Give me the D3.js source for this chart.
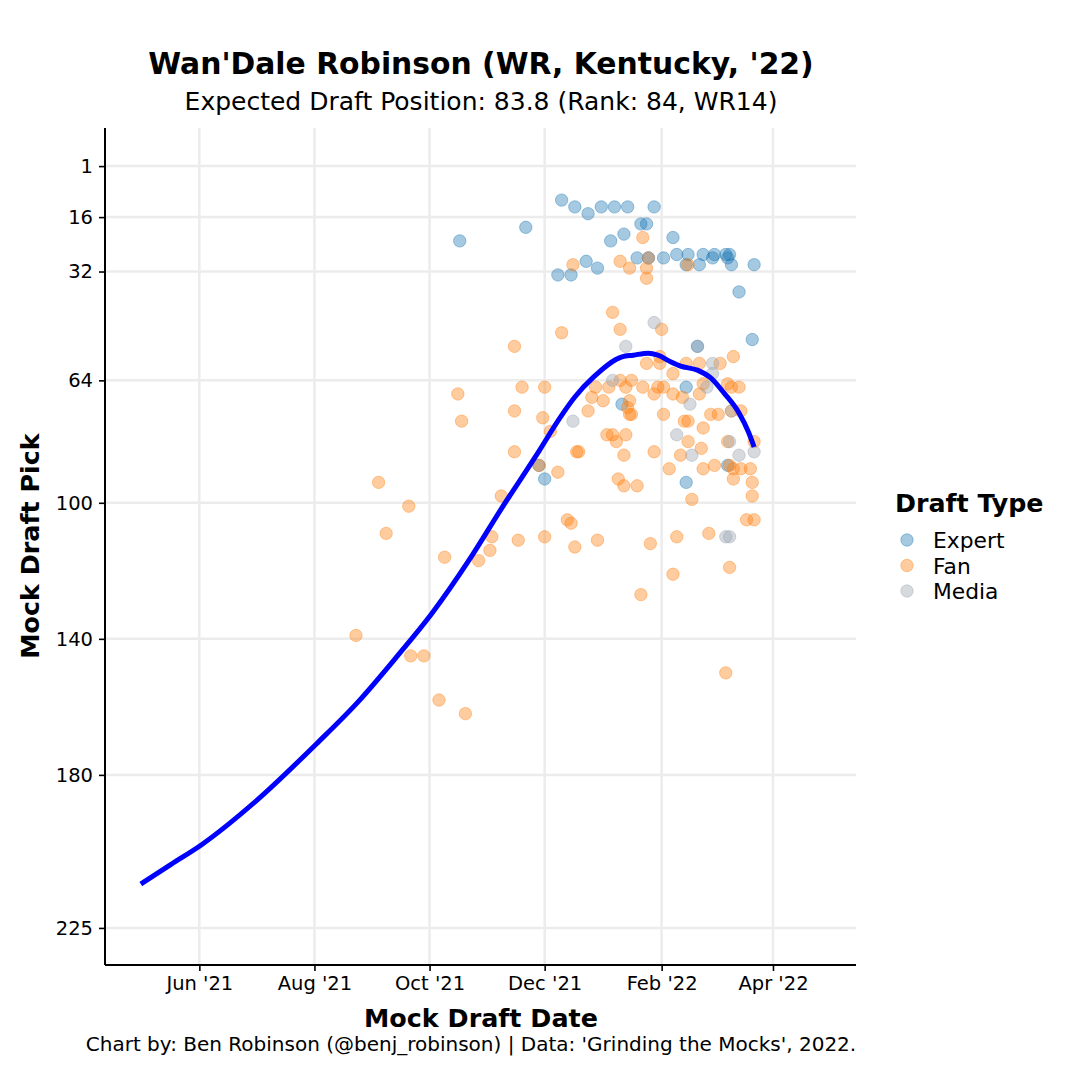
<!DOCTYPE html>
<html><head><meta charset="utf-8">
<script src="https://cdn.jsdelivr.net/npm/d3@7"></script>
<style>
html,body{margin:0;padding:0;background:#fff;}
svg{display:block;font-family:"DejaVu Sans",sans-serif;}
</style></head>
<body><svg id="chart" width="1080" height="1080"></svg>
<script>
const titleText = "Wan'Dale Robinson (WR, Kentucky, '22)";
const subtitleText = "Expected Draft Position: 83.8 (Rank: 84, WR14)";
const captionText = "Chart by: Ben Robinson (@benj_robinson) | Data: 'Grinding the Mocks', 2022.";
const xLabel = "Mock Draft Date";
const yLabel = "Mock Draft Pick";
const legendTitle = "Draft Type";
const categories = ["Expert", "Fan", "Media"];
const yTicks = [1, 16, 32, 64, 100, 140, 180, 225];
const xTicks = ["2021-06-01","2021-08-01","2021-10-01","2021-12-01","2022-02-01","2022-04-01"];
const xDomain = ["2021-04-12","2022-05-15"];
const yDomain = [-10.2, 235.9];

const expertPoints = [
["2021-10-17",23],["2021-11-21",19],["2021-12-10",11],["2021-12-17",13],["2021-12-24",15],
["2021-12-31",13],["2022-01-07",13],["2022-01-14",13],["2022-01-28",13],["2022-01-21",18],
["2022-01-24",18],["2022-01-12",21],["2022-01-05",23],["2022-02-07",22],["2021-12-23",29],
["2021-12-29",31],["2021-12-08",33],["2021-12-15",33],["2022-01-19",28],["2022-01-25",28],
["2022-02-02",28],["2022-02-09",27],["2022-02-15",27],["2022-02-21",30],["2022-02-23",27],
["2022-02-28",28],["2022-03-01",27],["2022-03-07",27],["2022-03-08",28],["2022-03-09",27],
["2022-03-10",30],["2022-03-22",30],["2022-03-14",38],["2022-02-14",30],["2022-03-21",52],
["2022-02-20",54],["2022-02-14",66],["2022-01-11",71],["2021-12-01",93],["2022-02-14",94],
["2022-03-08",89],["2021-11-28",89]
];

const fanPoints = [
["2021-11-15",54],["2021-12-10",50],["2021-12-16",30],["2022-01-10",29],["2022-01-15",31],
["2022-01-22",22],["2022-01-24",31],["2022-01-24",34],["2022-01-25",28],["2022-02-15",30],
["2022-01-06",44],["2022-01-10",49],["2022-02-01",49],["2022-01-24",59],["2022-01-31",59],
["2022-01-31",57],["2022-02-14",59],["2022-02-21",59],["2022-03-04",59],["2022-03-11",57],
["2022-02-07",62],["2021-12-01",66],["2022-01-10",64],["2022-01-16",64],["2022-01-04",66],
["2022-01-13",66],["2022-01-22",66],["2022-01-30",66],["2022-02-02",66],["2022-01-28",68],
["2022-02-07",68],["2022-02-12",69],["2022-02-21",68],["2022-02-23",65],["2022-03-08",65],
["2022-03-10",66],["2022-03-14",66],["2021-12-28",66],["2021-12-26",69],["2022-01-01",70],
["2022-01-15",70],["2022-01-14",72],["2022-01-16",74],["2022-01-15",74],["2021-12-24",73],
["2022-02-02",74],["2022-02-27",74],["2022-03-03",74],["2022-03-10",73],["2022-03-15",73],
["2021-11-30",75],["2021-12-04",79],["2022-01-03",80],["2022-01-06",80],["2022-01-13",80],
["2022-01-08",82],["2022-02-13",76],["2022-02-15",76],["2022-02-15",82],["2022-02-23",78],
["2022-02-22",84],["2022-03-08",82],["2022-03-22",82],["2021-12-18",85],["2021-12-19",85],
["2022-01-28",85],["2022-02-11",86],["2022-01-12",86],["2021-12-08",91],["2022-02-05",90],
["2022-02-23",90],["2022-03-01",89],["2022-03-09",89],["2022-03-11",90],["2022-03-15",90],
["2022-03-20",90],["2022-03-11",93],["2022-01-09",93],["2022-01-12",95],["2022-01-19",95],
["2022-02-17",99],["2022-03-21",94],["2022-03-21",98],["2021-12-13",105],["2021-12-15",106],
["2022-03-18",105],["2022-03-22",105],["2021-12-01",110],["2021-12-17",113],["2021-12-29",111],
["2022-01-26",112],["2022-02-09",110],["2022-02-26",109],["2022-02-07",121],["2022-03-09",119],
["2022-01-21",127],["2022-03-07",150],["2021-10-16",68],["2021-10-18",76],["2021-11-15",73],
["2021-11-19",66],["2021-11-15",85],["2021-11-28",89],["2021-09-04",94],["2021-09-20",101],
["2021-09-08",109],["2021-11-08",98],["2021-11-03",110],["2021-11-02",114],["2021-11-17",111],
["2021-10-09",116],["2021-10-27",117],["2021-08-23",139],["2021-09-21",145],["2021-09-28",145],
["2021-10-06",158],["2021-10-20",162]
];

const mediaPoints = [
["2022-01-28",47],["2022-01-13",54],["2022-02-28",59],["2022-02-28",62],["2022-01-06",64],
["2022-02-25",66],["2022-02-16",71],["2021-12-16",76],["2022-02-09",80],["2022-03-09",82],
["2022-02-17",86],["2022-03-14",86],["2022-03-22",85],["2022-03-07",110],["2022-03-09",110],
["2022-02-20",54],["2022-01-25",28],["2022-03-10",73]
];

const trendPoints = [
["2021-05-01",212.1],["2021-05-17",206.3],["2021-06-02",200.6],["2021-07-01",187.7],
["2021-08-02",170.9],["2021-08-24",158.6],["2021-09-14",145.0],["2021-10-02",132.7],
["2021-10-22",116.8],["2021-11-08",101.8],["2021-11-28",84.8],["2021-12-09",75.1],
["2021-12-17",68.9],["2021-12-27",63.0],["2022-01-11",57.1],["2022-01-17",56.6],
["2022-01-25",56.0],["2022-01-30",56.6],["2022-02-06",58.6],["2022-02-11",59.8],
["2022-02-20",61.0],["2022-02-27",63.3],["2022-03-06",67.7],["2022-03-14",73.6],
["2022-03-19",79.2],["2022-03-22",83.6]
];

const colors = {Expert: "#1f77b4", Fan: "#ff7f0e", Media: "#98a2ae"};

const parse = d3.utcParse("%Y-%m-%d");
const svg = d3.select("#chart");
const m = {left: 105, right: 856, top: 128, bottom: 965};

const x = d3.scaleUtc().domain(xDomain.map(parse)).range([m.left, m.right]);
const y = d3.scaleLinear().domain(yDomain).range([m.top, m.bottom]);

// grid
const grid = svg.append("g");
grid.selectAll(".vg").data(xTicks.map(parse)).join("line")
  .attr("x1", d => x(d)).attr("x2", d => x(d))
  .attr("y1", m.top).attr("y2", m.bottom)
  .attr("stroke", "#ececec").attr("stroke-width", 2.5);
grid.selectAll(".hg").data(yTicks).join("line")
  .attr("x1", m.left).attr("x2", m.right)
  .attr("y1", d => y(d)).attr("y2", d => y(d))
  .attr("stroke", "#ececec").attr("stroke-width", 2.5);

// points
const groups = [["Expert", expertPoints], ["Fan", fanPoints], ["Media", mediaPoints]];
groups.forEach(([cat, pts]) => {
  svg.append("g").selectAll("circle").data(pts).join("circle")
    .attr("cx", d => x(parse(d[0])))
    .attr("cy", d => y(d[1]))
    .attr("r", 6.2)
    .attr("fill", colors[cat]).attr("fill-opacity", 0.4)
    .attr("stroke", colors[cat]).attr("stroke-opacity", 0.4).attr("stroke-width", 1);
});

// trend line
const line = d3.line().x(d => x(parse(d[0]))).y(d => y(d[1])).curve(d3.curveMonotoneX);
svg.append("path").datum(trendPoints).attr("d", line)
  .attr("fill", "none").attr("stroke", "#0000ff").attr("stroke-width", 5)
  .attr("stroke-linejoin", "round");

// axes
const xAxis = d3.axisBottom(x).tickValues(xTicks.map(parse))
  .tickFormat(d3.utcFormat("%b '%y")).tickSizeOuter(0).tickSize(6).tickPadding(5);
const gx = svg.append("g").attr("transform", `translate(0,${m.bottom})`).call(xAxis);
gx.select(".domain").attr("d", `M${m.left},0H${m.right}`).attr("stroke", "#000").attr("stroke-width", 2);
gx.selectAll(".tick line").attr("stroke", "#000").attr("stroke-width", 1.6);
gx.selectAll(".tick text").attr("font-size", 19.5).attr("fill", "#000").attr("font-family", "DejaVu Sans");

const yAxis = d3.axisLeft(y).tickValues(yTicks).tickSizeOuter(0).tickSize(6).tickPadding(6);
const gy = svg.append("g").attr("transform", `translate(${m.left},0)`).call(yAxis);
gy.select(".domain").attr("d", `M0,${m.top}V${m.bottom}`).attr("stroke", "#000").attr("stroke-width", 2);
gy.selectAll(".tick line").attr("stroke", "#000").attr("stroke-width", 1.6);
gy.selectAll(".tick text").attr("font-size", 19.5).attr("fill", "#000").attr("font-family", "DejaVu Sans");

// titles
svg.append("text").attr("x", 481).attr("y", 74).attr("text-anchor", "middle")
  .attr("font-size", 29.8).attr("font-weight", "bold").text(titleText);
svg.append("text").attr("x", 481).attr("y", 110).attr("text-anchor", "middle")
  .attr("font-size", 25).text(subtitleText);
svg.append("text").attr("x", 481).attr("y", 1027).attr("text-anchor", "middle")
  .attr("font-size", 25.4).attr("font-weight", "bold").text(xLabel);
svg.append("text").attr("transform", `translate(39,546) rotate(-90)`).attr("text-anchor", "middle")
  .attr("font-size", 25.4).attr("font-weight", "bold").text(yLabel);
svg.append("text").attr("x", 471).attr("y", 1051).attr("text-anchor", "middle")
  .attr("font-size", 20).text(captionText);

// legend
const lg = svg.append("g");
lg.append("text").attr("x", 895).attr("y", 512).attr("font-size", 25.3).attr("font-weight", "bold").text(legendTitle);
categories.forEach((c, i) => {
  const cy = 540 + i * 25.5;
  lg.append("circle").attr("cx", 907).attr("cy", cy).attr("r", 6.2)
    .attr("fill", colors[c]).attr("fill-opacity", 0.4)
    .attr("stroke", colors[c]).attr("stroke-opacity", 0.4).attr("stroke-width", 1);
  lg.append("text").attr("x", 933).attr("y", cy + 8).attr("font-size", 21.8).text(c);
});
</script></body></html>
